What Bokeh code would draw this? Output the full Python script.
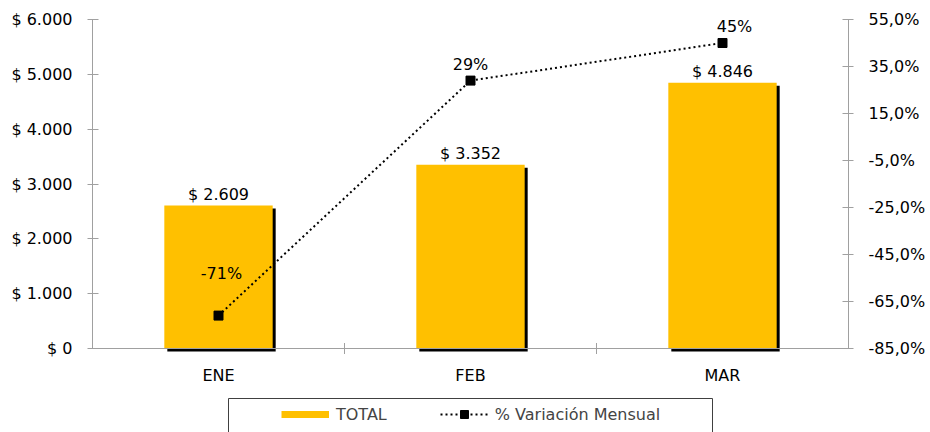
import math
from bokeh.plotting import figure
from bokeh.models import (ColumnDataSource, LinearAxis, Range1d, FixedTicker,
                          Legend, LegendItem, Span, BoxAnnotation)
from bokeh.core.properties import value
from bokeh.embed import file_html
from bokeh.resources import INLINE

# ---------------- data ----------------
months = ["ENE", "FEB", "MAR"]
totals = [2609, 3352, 4846]
variation = [-71, 29, 45]
left_ticks = [0, 1000, 2000, 3000, 4000, 5000, 6000]
right_ticks = [-85, -65, -45, -25, -5, 15, 35, 55]

# ---------------- style / layout (pixels) ----------------
FONT = "DejaVu Sans"
FS = "16px"
BAR_COLOR = "#FFC000"
AXIS_COLOR = "#a0a0a0"
W, H = 930, 432
AXIS_TOP_Y, AXIS_BOTTOM_Y = 19, 348     # pixel rows of top / bottom tick
BL, BR, BT, BB = 92, 82, 4, 0
FRAME_W = W - BL - BR
AXIS_H = AXIS_BOTTOM_Y - AXIS_TOP_Y
SHADOW_PX = 3
BAR_WIDTH = 0.43
XLABEL_DY = 27
pct_dx = [3, 0, 12]
pct_dy = [-42, -16, -17]
LEG_BOX_L, LEG_BOX_R, LEG_BOX_T = 228, 712, 398
LEG_GLYPH_X, LEG_ROW_H, LEG_ROW_TOP = 281, 20, 404

n = len(months)
xs = [i + 0.5 for i in range(n)]
bounds_x = list(range(1, n))
px_x = FRAME_W / n
px_y = AXIS_H / (left_ticks[-1] - left_ticks[0])
px_p = AXIS_H / (right_ticks[-1] - right_ticks[0])
extra_top = AXIS_TOP_Y - BT
extra_bot = H - BB - AXIS_BOTTOM_Y

src = ColumnDataSource(dict(
    x=xs,
    sx=[v + SHADOW_PX / px_x for v in xs],
    total=totals,
    stop=[t - SHADOW_PX / px_y for t in totals],
    label=["$ " + f"{t:,}".replace(",", ".") for t in totals],
    month=months,
    pct=variation,
    pct_label=[f"{v}%" for v in variation],
    dx=pct_dx,
    dy=pct_dy,
))

p = figure(width=W, height=H,
           x_range=Range1d(0, n),
           y_range=Range1d(left_ticks[0] - extra_bot / px_y,
                           left_ticks[-1] + extra_top / px_y),
           x_axis_location=None,
           output_backend="svg", toolbar_location=None,
           min_border_left=BL, min_border_right=BR,
           min_border_top=BT, min_border_bottom=BB)
p.extra_y_ranges = {"pct": Range1d(right_ticks[0] - extra_bot / px_p,
                                   right_ticks[-1] + extra_top / px_p)}
p.outline_line_color = None
p.grid.visible = False
p.background_fill_color = "white"
p.border_fill_color = "white"

# left axis
ya = p.yaxis[0]
ya.ticker = FixedTicker(ticks=left_ticks)
ya.bounds = (left_ticks[0], left_ticks[-1])
ya.major_label_overrides = {t: "$ " + f"{t:,}".replace(",", ".") for t in left_ticks}

# right axis
ra = LinearAxis(y_range_name="pct", ticker=FixedTicker(ticks=right_ticks),
                bounds=(right_ticks[0], right_ticks[-1]),
                major_label_overrides={t: f"{t:.1f}%".replace(".", ",") for t in right_ticks})
p.add_layout(ra, "right")

for ax in (ya, ra):
    ax.major_tick_in = 6
    ax.major_tick_out = 5
    ax.minor_tick_line_color = None
    ax.major_label_standoff = 15
    ax.axis_line_color = AXIS_COLOR
    ax.major_tick_line_color = AXIS_COLOR
    ax.major_label_text_font = FONT
    ax.major_label_text_font_size = FS
    ax.major_label_text_color = "black"

# bars with shadow
p.vbar(x="sx", top="stop", bottom=left_ticks[0] - SHADOW_PX / px_y, width=BAR_WIDTH,
       source=src, fill_color="black", line_color=None)
p.vbar(x="x", top="total", bottom=left_ticks[0], width=BAR_WIDTH,
       source=src, fill_color=BAR_COLOR, line_color=None)
p.text(x="x", y="total", text="label", source=src, text_align="center",
       text_baseline="alphabetic", y_offset=-11, text_font=value(FONT),
       text_font_size=FS, text_color="black")

# category axis (line, separator ticks, labels)
p.add_layout(Span(location=left_ticks[0], dimension="width",
                  line_color=AXIS_COLOR, line_width=1))
p.scatter(x=bounds_x, y=[left_ticks[0]] * len(bounds_x), marker="dash",
          angle=math.pi / 2, size=11, line_color=AXIS_COLOR, line_width=1)
p.text(x="x", y=left_ticks[0], text="month", source=src, text_align="center",
       text_baseline="middle", y_offset=XLABEL_DY, text_font=value(FONT),
       text_font_size=FS, text_color="black")

# variation line
line_r = p.line(x="x", y="pct", source=src, y_range_name="pct",
                line_color="black", line_width=2, line_dash="2 3")
mark_r = p.scatter(x="x", y="pct", source=src, y_range_name="pct",
                   marker="square", size=9, fill_color="black", line_color="black")
p.text(x="x", y="pct", text="pct_label", source=src, y_range_name="pct",
       x_offset="dx", y_offset="dy", text_align="center",
       text_baseline="alphabetic", text_font=value(FONT),
       text_font_size=FS, text_color="black")

# legend box + legend
p.add_layout(BoxAnnotation(left=(LEG_BOX_L - BL) / px_x, right=(LEG_BOX_R - BL) / px_x,
                           top=left_ticks[0] - (LEG_BOX_T - AXIS_BOTTOM_Y) / px_y,
                           bottom=left_ticks[0] - (H + 20 - AXIS_BOTTOM_Y) / px_y,
                           fill_color="white", fill_alpha=1,
                           line_color="#404040", line_width=1, line_alpha=1,
                           level="underlay"))
# legend-only swatch for the bars (one non-drawable row so the legend has a style to read)
swatch = p.line(x=[float("nan")], y=[float("nan")], line_color=BAR_COLOR, line_width=7)
legend = Legend(items=[LegendItem(label="TOTAL", renderers=[swatch]),
                       LegendItem(label="% Variación Mensual", renderers=[line_r, mark_r])],
                orientation="horizontal",
                location=(LEG_GLYPH_X - BL, H - BB - LEG_ROW_TOP - LEG_ROW_H),
                padding=0, margin=0,
                spacing=53, glyph_width=48, glyph_height=LEG_ROW_H, label_height=LEG_ROW_H,
                label_standoff=7, label_text_font=FONT, label_text_font_size=FS,
                border_line_color=None, background_fill_alpha=0)
p.add_layout(legend)

open("out.html", "w").write(file_html(p, INLINE))
